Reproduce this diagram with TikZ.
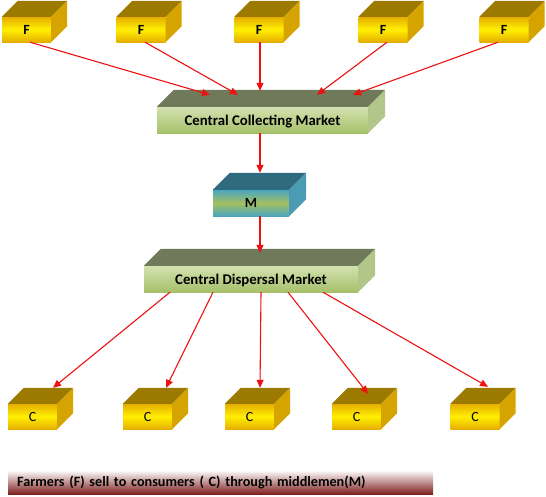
\documentclass[tikz,border=0pt]{standalone}
\usepackage{fontspec}
\setmainfont{Carlito}
\usetikzlibrary{calc,arrows.meta}
\definecolor{goldE}{HTML}{E6AE00}
\definecolor{goldM}{HTML}{FFF000}
\definecolor{goldTop}{HTML}{9C7A00}
\definecolor{goldSide}{HTML}{D6A400}
\definecolor{grnA}{HTML}{D2E2B0}
\definecolor{grnB}{HTML}{A6C06A}
\definecolor{grnTop}{HTML}{707A5A}
\definecolor{grnSide}{HTML}{B2C68A}
\definecolor{tealE}{HTML}{4AA6C0}
\definecolor{tealM}{HTML}{A4C060}
\definecolor{tealTop}{HTML}{2F6A7E}
\definecolor{tealSide}{HTML}{4A9CB4}
\definecolor{capRed}{HTML}{7E1E1E}
\definecolor{arrRed}{HTML}{EE1111}
\tikzset{
  goldbox/.style={inner sep=0pt, minimum width=49pt, minimum height=25pt, text depth=0pt,
    top color=goldE, bottom color=goldE, middle color=goldM, font=\fontsize{14}{15}\selectfont},
  flabel/.style={font=\bfseries\fontsize{14}{15}\selectfont},
  mktbox/.style={inner sep=0pt, minimum height=26pt, text depth=0pt, top color=grnA, bottom color=grnB,
    font=\bfseries\fontsize{14.8}{16}\selectfont},
  mbox/.style={inner sep=0pt, minimum width=76pt, minimum height=26pt, text depth=0pt,
    top color=tealE, bottom color=tealE, middle color=tealM, font=\bfseries\fontsize{14}{15}\selectfont},
  capbar/.style={anchor=north west, minimum width=425pt, minimum height=24pt, inner xsep=9pt, inner ysep=0pt,
    text width=407pt, align=left, top color=white, bottom color=capRed,
    font=\bfseries\fontsize{14.2}{16}\selectfont},
  arr/.style={draw=arrRed, line width=1.1pt, -{Triangle[length=8pt,width=7pt]}},
}
\newcommand\cubefaces[4]{%
  \fill[#3] (#1.north west) -- ($(#1.north west)+(#2,-#2)$) -- ($(#1.north east)+(#2,-#2)$) -- (#1.north east) -- cycle;
  \fill[#4] (#1.north east) -- ($(#1.north east)+(#2,-#2)$) -- ($(#1.south east)+(#2,-#2)$) -- (#1.south east) -- cycle;
}
\begin{document}
\begin{tikzpicture}[x=1pt,y=-1pt]
\useasboundingbox (0,0) rectangle (546,496);
% farmers
\node[goldbox,flabel] (f1) at (26.5,29.5) {F};
\node[goldbox,flabel] (f2) at (141,29.5) {F};
\node[goldbox,flabel] (f3) at (259,29.5) {F};
\node[goldbox,flabel] (f4) at (383,29.5) {F};
\node[goldbox,flabel] (f5) at (504,29.5) {F};
\foreach \n in {f1,f2,f3,f4,f5} {\cubefaces{\n}{16}{goldTop}{goldSide}}
% markets
\node[mktbox,minimum width=211pt] (ccm) at (262.5,120) {Central Collecting Market};
\cubefaces{ccm}{17}{grnTop}{grnSide}
\node[mbox] (m) at (251,203) {M};
\cubefaces{m}{17}{tealTop}{tealSide}
\node[mktbox,minimum width=214pt] (cdm) at (251,279) {Central Dispersal Market};
\cubefaces{cdm}{17}{grnTop}{grnSide}
% consumers
\node[goldbox] (c1) at (32.5,416.5) {C};
\node[goldbox] (c2) at (147.5,416.5) {C};
\node[goldbox] (c3) at (249.5,416.5) {C};
\node[goldbox] (c4) at (356.5,416.5) {C};
\node[goldbox] (c5) at (475,416.5) {C};
\foreach \n in {c1,c2,c3,c4,c5} {\cubefaces{\n}{16}{goldTop}{goldSide}}
% arrows
\draw[arr] ($(f1.south)+(3.5,0)$) -- ($(ccm.north)+(-52.5,-12)$);
\draw[arr] ($(f2.south)+(4,0)$) -- ($(ccm.north)+(-24.5,-12)$);
\draw[arr] ($(f3.south)+(1,0)$) -- ($(ccm.north)+(-2.5,-16)$);
\draw[arr] ($(f4.south)+(4,0)$) -- ($(ccm.north)+(54.5,-12)$);
\draw[arr] ($(f5.south)+(-6,0)$) -- ($(ccm.north)+(90.5,-12)$);
\draw[arr] ($(ccm.south)+(-2.5,0)$) -- ($(m.north)+(9,-17)$);
\draw[arr] ($(m.south)+(9,0)$) -- ($(cdm.north)+(9,-13)$);
\draw[arr] ($(cdm.south)+(-81,0)$) -- ($(c1.north)+(20.5,-16)$);
\draw[arr] ($(cdm.south)+(-38,0)$) -- ($(c2.north)+(18.5,-16)$);
\draw[arr] ($(cdm.south)+(10,0)$) -- ($(c3.north)+(10.5,-16)$);
\draw[arr] ($(cdm.south)+(37,0)$) -- ($(c4.north)+(11.5,-10)$);
\draw[arr] ($(cdm.south)+(72,0)$) -- ($(c5.north)+(13,-17)$);
% caption
\node[capbar] (cap) at (8,470) {Farmers (F) sell to consumers ( C) through middlemen(M)};
\end{tikzpicture}
\end{document}
